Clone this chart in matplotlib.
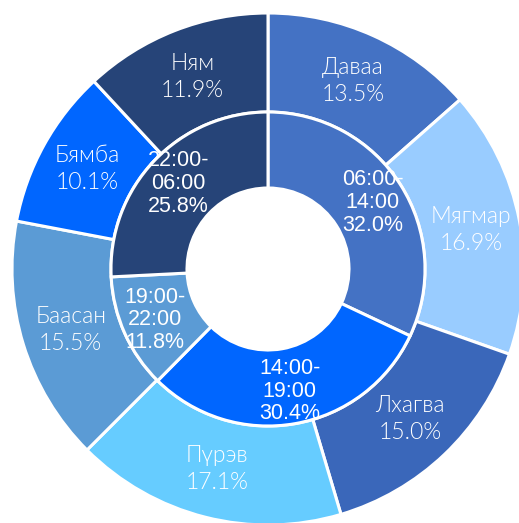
import numpy as np
import matplotlib
matplotlib.use("Agg")
import matplotlib.pyplot as plt

# weekday shares (outer ring)
days = ["Даваа", "Мягмар", "Лхагва", "Пүрэв", "Баасан", "Бямба", "Ням"]
day_share = [13.5, 16.9, 15.0, 17.1, 15.5, 10.1, 11.9]
day_colors = ["#4472C4", "#99CCFF", "#3A67BA", "#66CCFF", "#5B9BD5", "#0066FF", "#264478"]

# time-of-day shares (inner ring)
slots = ["06:00-\n14:00", "14:00-\n19:00", "19:00-\n22:00", "22:00-\n06:00"]
slot_share = [32.0, 30.4, 11.8, 25.8]
slot_colors = ["#4472C4", "#0066FF", "#5B9BD5", "#264478"]

W, H = 519, 523
cx, cy = 268, 269  # ring centre, pixels from top-left
R_OUT, R_MID, R_HOLE = 256, 157, 81

fig = plt.figure(figsize=(W / 100, H / 100), dpi=100)
ax = fig.add_axes([0, 0, 1, 1])
ax.set_aspect("equal")
ax.axis("off")

edge = dict(edgecolor="white", linewidth=2.2)
outer, _ = ax.pie(day_share, radius=R_OUT, colors=day_colors, startangle=90,
                  counterclock=False, wedgeprops=dict(width=R_OUT - R_MID, **edge))
inner, _ = ax.pie(slot_share, radius=R_MID, colors=slot_colors, startangle=90,
                  counterclock=False, wedgeprops=dict(width=R_MID - R_HOLE, **edge))
ax.set_xlim(-cx, W - cx)
ax.set_ylim(-(H - cy), cy)


def mid_point(w, r):
    a = np.deg2rad((w.theta1 + w.theta2) / 2)
    return r * np.cos(a), r * np.sin(a)


for w, name, v in zip(outer, days, day_share):
    x, y = mid_point(w, (R_OUT + R_MID) / 2)
    ax.text(x, y, f"{name}\n{v:.1f}%", ha="center", va="center", color="white",
            fontsize=16.5, fontweight=300, family=["Lato", "DejaVu Sans"],
            linespacing=1.35)

for w, name, v in zip(inner, slots, slot_share):
    x, y = mid_point(w, (R_MID + R_HOLE) / 2 + 5)
    ax.text(x, y, f"{name}\n{v:.1f}%", ha="center", va="center", color="white",
            fontsize=15.5, family=["Liberation Sans", "DejaVu Sans"], linespacing=1.1)

fig.savefig("out.png", dpi=100)
